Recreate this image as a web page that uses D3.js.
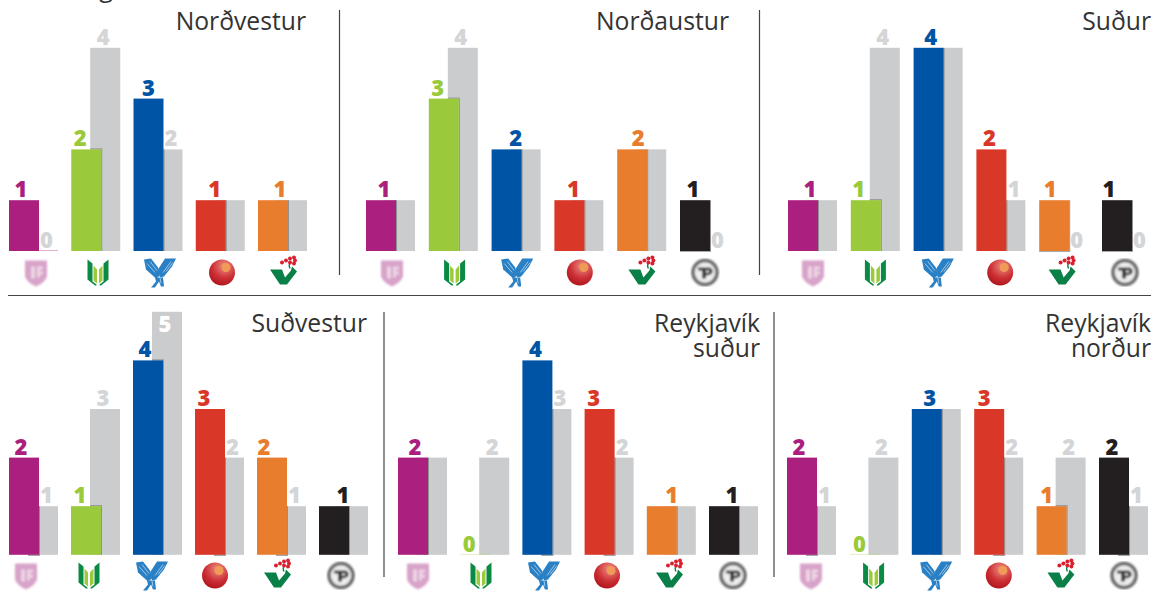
<!DOCTYPE html>
<html>
<head>
<meta charset="utf-8">
<script src="https://cdn.jsdelivr.net/npm/d3@7"></script>
<style>
  html, body { margin: 0; background: #fff; }
  svg { display: block; }
  text { font-family: "Open Sans", sans-serif; }
  .title { font-size: 24.7px; fill: #333; text-anchor: end; }
  .num { font-size: 22px; font-weight: 800; text-anchor: middle; }
</style>
</head>
<body>
<div id="chart"></div>
<script>
// party codes, in the order of the logos
const parties = ['A', 'V', 'D', 'S', 'B', 'P'];
const partyColors = ['#ab1f7e', '#9aca3c', '#0054a5', '#d93727', '#e97d2e', '#231f20'];

// seats per constituency: coloured bar = now, grey bar = before
const nordvesturNow = [1, 2, 3, 1, 1];
const nordvesturBefore = [0, 4, 2, 1, 1];
const nordausturNow = [1, 3, 2, 1, 2, 1];
const nordausturBefore = [1, 4, 2, 1, 2, 0];
const sudurNow = [1, 1, 4, 2, 1, 1];
const sudurBefore = [1, 4, 4, 1, 0, 0];
const sudvesturNow = [2, 1, 4, 3, 2, 1];
const sudvesturBefore = [1, 3, 5, 2, 1, 1];
const rvkSudurNow = [2, 0, 4, 3, 1, 1];
const rvkSudurBefore = [2, 2, 3, 2, 1, 1];
const rvkNordurNow = [2, 0, 3, 3, 1, 2];
const rvkNordurBefore = [1, 2, 3, 2, 2, 1];

const width = 1171, height = 593;
const barW = 30, greyOffset = 19, greyColor = '#cbccce', greyText = '#d4d5d6', edgeColor = '#8f9092';
const rows = [
  { base: 251, unit: 50.8, iconY: 272.5 },
  { base: 554.8, unit: 48.6, iconY: 575.5 }
];

// layout per panel; nudge = how far the coloured number sits from the bar's centre
const panels = [
  { title: ['Norðvestur'], now: nordvesturNow, before: nordvesturBefore, row: 0, x0: 9, step: 62.25, icon0: 36, iconStep: 62, right: 306, titleY: 30, nudge: [-3, -6, 0, 4, 7] },
  { title: ['Norðaustur'], now: nordausturNow, before: nordausturBefore, row: 0, x0: 366, step: 62.8, icon0: 392, iconStep: 62.6, right: 729, titleY: 30, nudge: [3, -6, 9, 4, 6, -2] },
  { title: ['Suður'], now: sudurNow, before: sudurBefore, row: 0, x0: 788, step: 62.8, icon0: 813, iconStep: 62.4, right: 1151, titleY: 30, nudge: [7, -7, 2, -2, -4, -8] },
  { title: ['Suðvestur'], now: sudvesturNow, before: sudvesturBefore, row: 1, x0: 9, step: 62, icon0: 26, iconStep: 63, right: 367, titleY: 332, nudge: [-3, -6, -3, -6, -8, 9] },
  { title: ['Reykjavík', 'suður'], now: rvkSudurNow, before: rvkSudurBefore, row: 1, x0: 398, step: 62.2, icon0: 418, iconStep: 63, right: 760, titleY: 332, nudge: [2, -6, -2, -6, 10, 8] },
  { title: ['Reykjavík', 'norður'], now: rvkNordurNow, before: rvkNordurBefore, row: 1, x0: 787, step: 62.4, icon0: 811, iconStep: 62.6, right: 1151, titleY: 332, nudge: [-3, -5, 3, -5, -5, -2] }
];

const svg = d3.select('#chart').append('svg').attr('width', width).attr('height', height);

const defs = svg.append('defs');
defs.append('filter').attr('id', 'soft').append('feGaussianBlur').attr('stdDeviation', 1);
const ball = defs.append('radialGradient').attr('id', 'ball').attr('cx', 0.6).attr('cy', 0.25).attr('r', 0.85);
ball.append('stop').attr('offset', '0').attr('stop-color', '#f2a05c');
ball.append('stop').attr('offset', '0.18').attr('stop-color', '#e2706a');
ball.append('stop').attr('offset', '0.55').attr('stop-color', '#cc3036');
ball.append('stop').attr('offset', '1').attr('stop-color', '#a80f14');

// logos, drawn around 0,0
const icons = {
  A(g) {
    const s = g.append('g').attr('filter', 'url(#soft)');
    s.append('path').attr('d', 'M-11,-12 H11 V4 Q9,10 0,14 Q-9,10 -11,4 Z').attr('fill', '#d8a3c9');
    s.append('path').attr('d', 'M-5,-6 H-1 V6 H-5 Z M1,-6 H7 V-3 H4 V-1 H7 V2 H4 V5 H1 Z').attr('fill', '#ecd4e4');
  },
  V(g) {
    g.append('path').attr('d', 'M-10.5,-13 L-5.5,-9 V9 L-1.5,12 V13 H-3 L-10.5,7 Z').attr('fill', '#0b8a45');
    g.append('path').attr('d', 'M10.5,-13 L5.5,-9 V9 L1.5,12 V13 H3 L10.5,7 Z').attr('fill', '#0b8a45');
    g.append('path').attr('d', 'M-4.5,-7 L-1,-3 V11 L-4.5,8 Z M4.5,-7 L1,-3 V11 L4.5,8 Z').attr('fill', '#9aca3c');
  },
  D(g) {
    g.append('path').attr('d', 'M-16,-13 L-9,-14 L-2,-5 L0,3 L-4,6 L-14,-3 Z').attr('fill', '#2a80c4');
    g.append('path').attr('d', 'M16,-14 L5,-14 L-2,-3 L0,5 L4,4 L12,-6 Z').attr('fill', '#2a80c4');
    g.append('path').attr('d', 'M-5,5 H3 L4,14 L1,14 L-1,9 L-5,15 L-9,15 L-4,9 Z').attr('fill', '#2a80c4');
    g.append('path').attr('d', 'M-13,-9 L-5,0 M-10,-11 L-3,-2 M11,-11 L3,0 M13,-10 L6,-1 M0,5 L1,11')
      .attr('stroke', '#cfe3f3').attr('stroke-width', 0.7).attr('fill', 'none');
  },
  S(g) {
    g.append('circle').attr('r', 13).attr('fill', 'url(#ball)');
    g.append('circle').attr('cx', 4).attr('cy', -5).attr('r', 4.5).attr('fill', '#f09a58');
  },
  B(g) {
    g.append('path').attr('d', 'M-14,-3 H-2 L1,5 L7,-2 L8,-6 L13,-1 L3,12 H-4 Z').attr('fill', '#0a8048');
    g.append('path').attr('d', 'M6,-4 Q4,-8 7,-10').attr('stroke', '#0a8048').attr('stroke-width', 1.4).attr('fill', 'none');
    g.selectAll('circle').data([[-2, -10], [2, -12], [6, -14], [6, -10], [10, -15], [11, -12], [10, -9]]).enter().append('circle')
      .attr('cx', d => d[0]).attr('cy', d => d[1]).attr('r', 2).attr('fill', '#d9202f');
  },
  P(g) {
    const s = g.append('g').attr('filter', 'url(#soft)');
    s.append('circle').attr('r', 12).attr('fill', '#eee').attr('stroke', '#6a6a6a').attr('stroke-width', 3.5);
    s.append('path').attr('d', 'M-7,-5 H5 Q9,-3 7,1 Q5,3 1,3 V6 H-3 V-2 H-7 Z').attr('fill', '#3a3a3a');
    s.append('path').attr('d', 'M1,-2 H4 V0 H1 Z').attr('fill', '#eee');
  }
};

panels.forEach(p => {
  const row = rows[p.row];
  const keys = parties.slice(0, p.now.length);
  const x = d3.scalePoint().domain(parties).range([p.x0, p.x0 + p.step * 5]);
  const iconX = d3.scalePoint().domain(parties).range([p.icon0, p.icon0 + p.iconStep * 5]);
  const y = d3.scaleLinear().domain([0, 5]).range([row.base, row.base - row.unit * 5]);
  const data = keys.map((k, i) => ({ k, i, now: p.now[i], before: p.before[i] }));
  const g = svg.append('g');

  // grey bars behind
  g.selectAll('.grey').data(data).enter().append('rect')
    .attr('x', d => x(d.k) + greyOffset)
    .attr('width', barW)
    .attr('y', d => y(d.before))
    .attr('height', d => y(0) - y(d.before))
    .attr('fill', greyColor);

  // thin shadow right of the coloured bar
  g.selectAll('.edge').data(data.filter(d => d.now > 0 && (d.before > 0 || d.i > 0))).enter().append('rect')
    .attr('x', d => x(d.k) + barW)
    .attr('width', 1)
    .attr('y', d => y(d.before > 0 ? Math.min(d.now, d.before) : d.now))
    .attr('height', d => y(0) - y(d.before > 0 ? Math.min(d.now, d.before) : d.now))
    .attr('fill', edgeColor);

  // and its top edge where it stands in front of a taller grey bar
  g.selectAll('.topEdge').data(data.filter(d => d.now > 0 && d.before > d.now)).enter().append('rect')
    .attr('x', d => x(d.k) + greyOffset)
    .attr('width', barW - greyOffset + 1)
    .attr('y', d => y(d.now) - 1)
    .attr('height', 1)
    .attr('fill', edgeColor);

  // bottom stub in the lower row, and under bars with nothing behind them
  g.selectAll('.stub').data(data.filter(d => p.row === 1 && d.now > d.before)).enter().append('rect')
    .attr('x', d => x(d.k) + greyOffset)
    .attr('width', barW - greyOffset + 1)
    .attr('y', y(0))
    .attr('height', 1)
    .attr('fill', edgeColor);
  g.selectAll('.under').data(data.filter(d => d.before === 0 && d.i > 0)).enter().append('rect')
    .attr('x', d => x(d.k))
    .attr('width', barW + 1)
    .attr('y', y(0))
    .attr('height', 1)
    .attr('fill', '#a9aaac');

  g.selectAll('.now').data(data).enter().append('rect')
    .attr('x', d => x(d.k))
    .attr('width', barW)
    .attr('y', d => y(d.now))
    .attr('height', d => y(0) - y(d.now))
    .attr('fill', d => partyColors[d.i]);

  // a zero is only a hairline on the baseline
  g.selectAll('.zero').data(data.filter(d => d.now === 0)).enter().append('rect')
    .attr('x', d => x(d.k)).attr('width', barW).attr('y', y(0) - 1).attr('height', 1)
    .attr('fill', d => partyColors[d.i]).attr('opacity', 0.3);
  g.selectAll('.zeroB').data(data.filter(d => d.before === 0 && d.i === 0)).enter().append('rect')
    .attr('x', d => x(d.k) + barW).attr('width', greyOffset).attr('y', y(0) - 1).attr('height', 1)
    .attr('fill', d => partyColors[d.i]).attr('opacity', 0.35);

  g.selectAll('.numNow').data(data).enter().append('text')
    .attr('class', 'num')
    .attr('x', d => x(d.k) + barW / 2 + p.nudge[d.i])
    .attr('y', d => y(d.now) - 3)
    .attr('fill', d => partyColors[d.i])
    .text(d => d.now);

  // grey number only where the seat count changed
  g.selectAll('.numBefore').data(data.filter(d => d.before !== d.now)).enter().append('text')
    .attr('class', 'num')
    .attr('x', d => (d.before > d.now ? x(d.k) + greyOffset + barW / 2 : x(d.k) + barW + greyOffset / 2) - 2)
    .attr('y', d => d.before === 5 ? y(d.before) + 20 : y(d.before) - 3)
    .attr('fill', d => d.before === 5 ? '#fff' : greyText)
    .text(d => d.before);

  data.forEach(d => {
    const ig = g.append('g').attr('transform', `translate(${iconX(d.k)},${row.iconY})`);
    icons[d.k](ig);
  });

  const title = svg.append('text').attr('class', 'title').attr('y', p.titleY);
  p.title.forEach((t, i) => {
    title.append('tspan').attr('x', p.right).attr('dy', i === 0 ? 0 : 24.5).text(t);
  });
});

// dividers
const rules = [[339.5, 10, 339.5, 275], [759.5, 10, 759.5, 275], [384, 312, 384, 577], [774, 312, 774, 577], [8, 295.5, 1151, 295.5]];
svg.selectAll('.rule').data(rules).enter().append('line')
  .attr('x1', d => d[0]).attr('y1', d => d[1]).attr('x2', d => d[2]).attr('y2', d => d[3])
  .attr('stroke', '#444').attr('stroke-width', 1.2);

// bottom of a letter from the cropped heading above
svg.append('text').attr('x', 106).attr('y', -3).attr('text-anchor', 'middle').attr('font-size', 25).attr('fill', '#333').text('g');
</script>
</body>
</html>
